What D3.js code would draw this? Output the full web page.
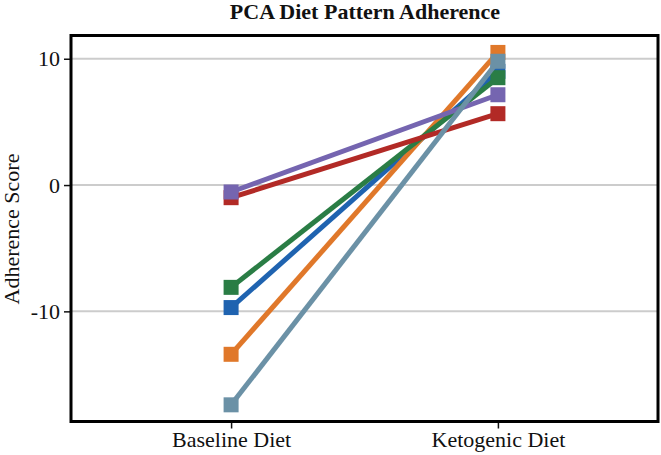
<!DOCTYPE html>
<meta charset="utf-8">
<head>
  <title>PCA Diet Pattern Adherence</title>
</head>

<style>
body { margin: 0; background: #fff; }
text { font-family: "Liberation Serif", "Times New Roman", serif; fill: #111; }
</style>

<body>
  <svg width="661" height="455"></svg>

  <script src="https://cdnjs.cloudflare.com/ajax/libs/d3/7.8.5/d3.min.js"></script>
  <script>
var width = 661, height = 455
var margin = {top: 35.5, right: 3, bottom: 33.5, left: 71}

// diet phases on the x axis
var phases = ['Baseline Diet', 'Ketogenic Diet']
var yTicks = [-10, 0, 10]

// one pair of scores per subject (baseline, ketogenic)
var blueSeries = [-9.7, 9.0]
var orangeSeries = [-13.4, 10.5]
var greenSeries = [-8.1, 8.5]
var redSeries = [-1.0, 5.65]
var purpleSeries = [-0.55, 7.15]
var tealSeries = [-17.4, 9.8]

var series = [
  {color: '#1f63b0', values: blueSeries},
  {color: '#e0782a', values: orangeSeries},
  {color: '#2a7d45', values: greenSeries},
  {color: '#b22a26', values: redSeries},
  {color: '#7565b0', values: purpleSeries},
  {color: '#6b91a6', values: tealSeries}
]

var svg = d3.select('svg')

var x = d3.scaleLinear()
  .domain([-0.6, 1.6])
  .range([margin.left, width - margin.right])

var y = d3.scaleLinear()
  .domain([-18.72, 11.84])
  .range([height - margin.bottom, margin.top])

// grid lines
svg.append('g')
  .selectAll('line')
  .data(yTicks)
  .enter().append('line')
  .attr('x1', margin.left)
  .attr('x2', width - margin.right)
  .attr('y1', function(d) { return y(d) })
  .attr('y2', function(d) { return y(d) })
  .attr('stroke', '#cccccc')
  .attr('stroke-width', 2)

// axes (plain hyphen for negatives, like the original)
var yAxis = svg.append('g')
  .attr('transform', 'translate(' + margin.left + ',0)')
  .call(d3.axisLeft(y).tickValues(yTicks).tickFormat(function(d) { return String(d) }).tickSize(7).tickPadding(4))
yAxis.select('.domain').remove()
yAxis.selectAll('text').style('font-size', '22px')
yAxis.selectAll('line').attr('stroke', '#111').attr('stroke-width', 1.5)

var xAxis = svg.append('g')
  .attr('transform', 'translate(0,' + (height - margin.bottom) + ')')
  .call(d3.axisBottom(x).tickValues([0, 1]).tickFormat(function(d) { return phases[d] }).tickSize(7).tickPadding(3))
xAxis.select('.domain').remove()
xAxis.selectAll('text').style('font-size', '22px')
xAxis.selectAll('line').attr('stroke', '#111').attr('stroke-width', 1.5)

// lines and square markers
var line = d3.line()
  .x(function(d, i) { return x(i) })
  .y(function(d) { return y(d) })

var groups = svg.append('g')
  .selectAll('g')
  .data(series)
  .enter().append('g')

groups.append('path')
  .attr('d', function(d) { return line(d.values) })
  .attr('fill', 'none')
  .attr('stroke', function(d) { return d.color })
  .attr('stroke-width', 5)

var sq = 15
groups.selectAll('rect')
  .data(function(d) { return d.values.map(function(v, i) { return {v: v, i: i, color: d.color} }) })
  .enter().append('rect')
  .attr('x', function(d) { return x(d.i) - sq / 2 })
  .attr('y', function(d) { return y(d.v) - sq / 2 })
  .attr('width', sq)
  .attr('height', sq)
  .attr('fill', function(d) { return d.color })

// frame
svg.append('rect')
  .attr('x', margin.left)
  .attr('y', margin.top)
  .attr('width', width - margin.left - margin.right)
  .attr('height', height - margin.top - margin.bottom)
  .attr('fill', 'none')
  .attr('stroke', '#000')
  .attr('stroke-width', 3)

// title and y label
svg.append('text')
  .attr('x', 365)
  .attr('y', 19)
  .attr('text-anchor', 'middle')
  .style('font-size', '22px')
  .style('font-weight', 'bold')
  .text('PCA Diet Pattern Adherence')

svg.append('text')
  .attr('transform', 'translate(19,' + 229 + ') rotate(-90)')
  .attr('text-anchor', 'middle')
  .style('font-size', '22px')
  .text('Adherence Score')
  </script>
</body>
</html>
